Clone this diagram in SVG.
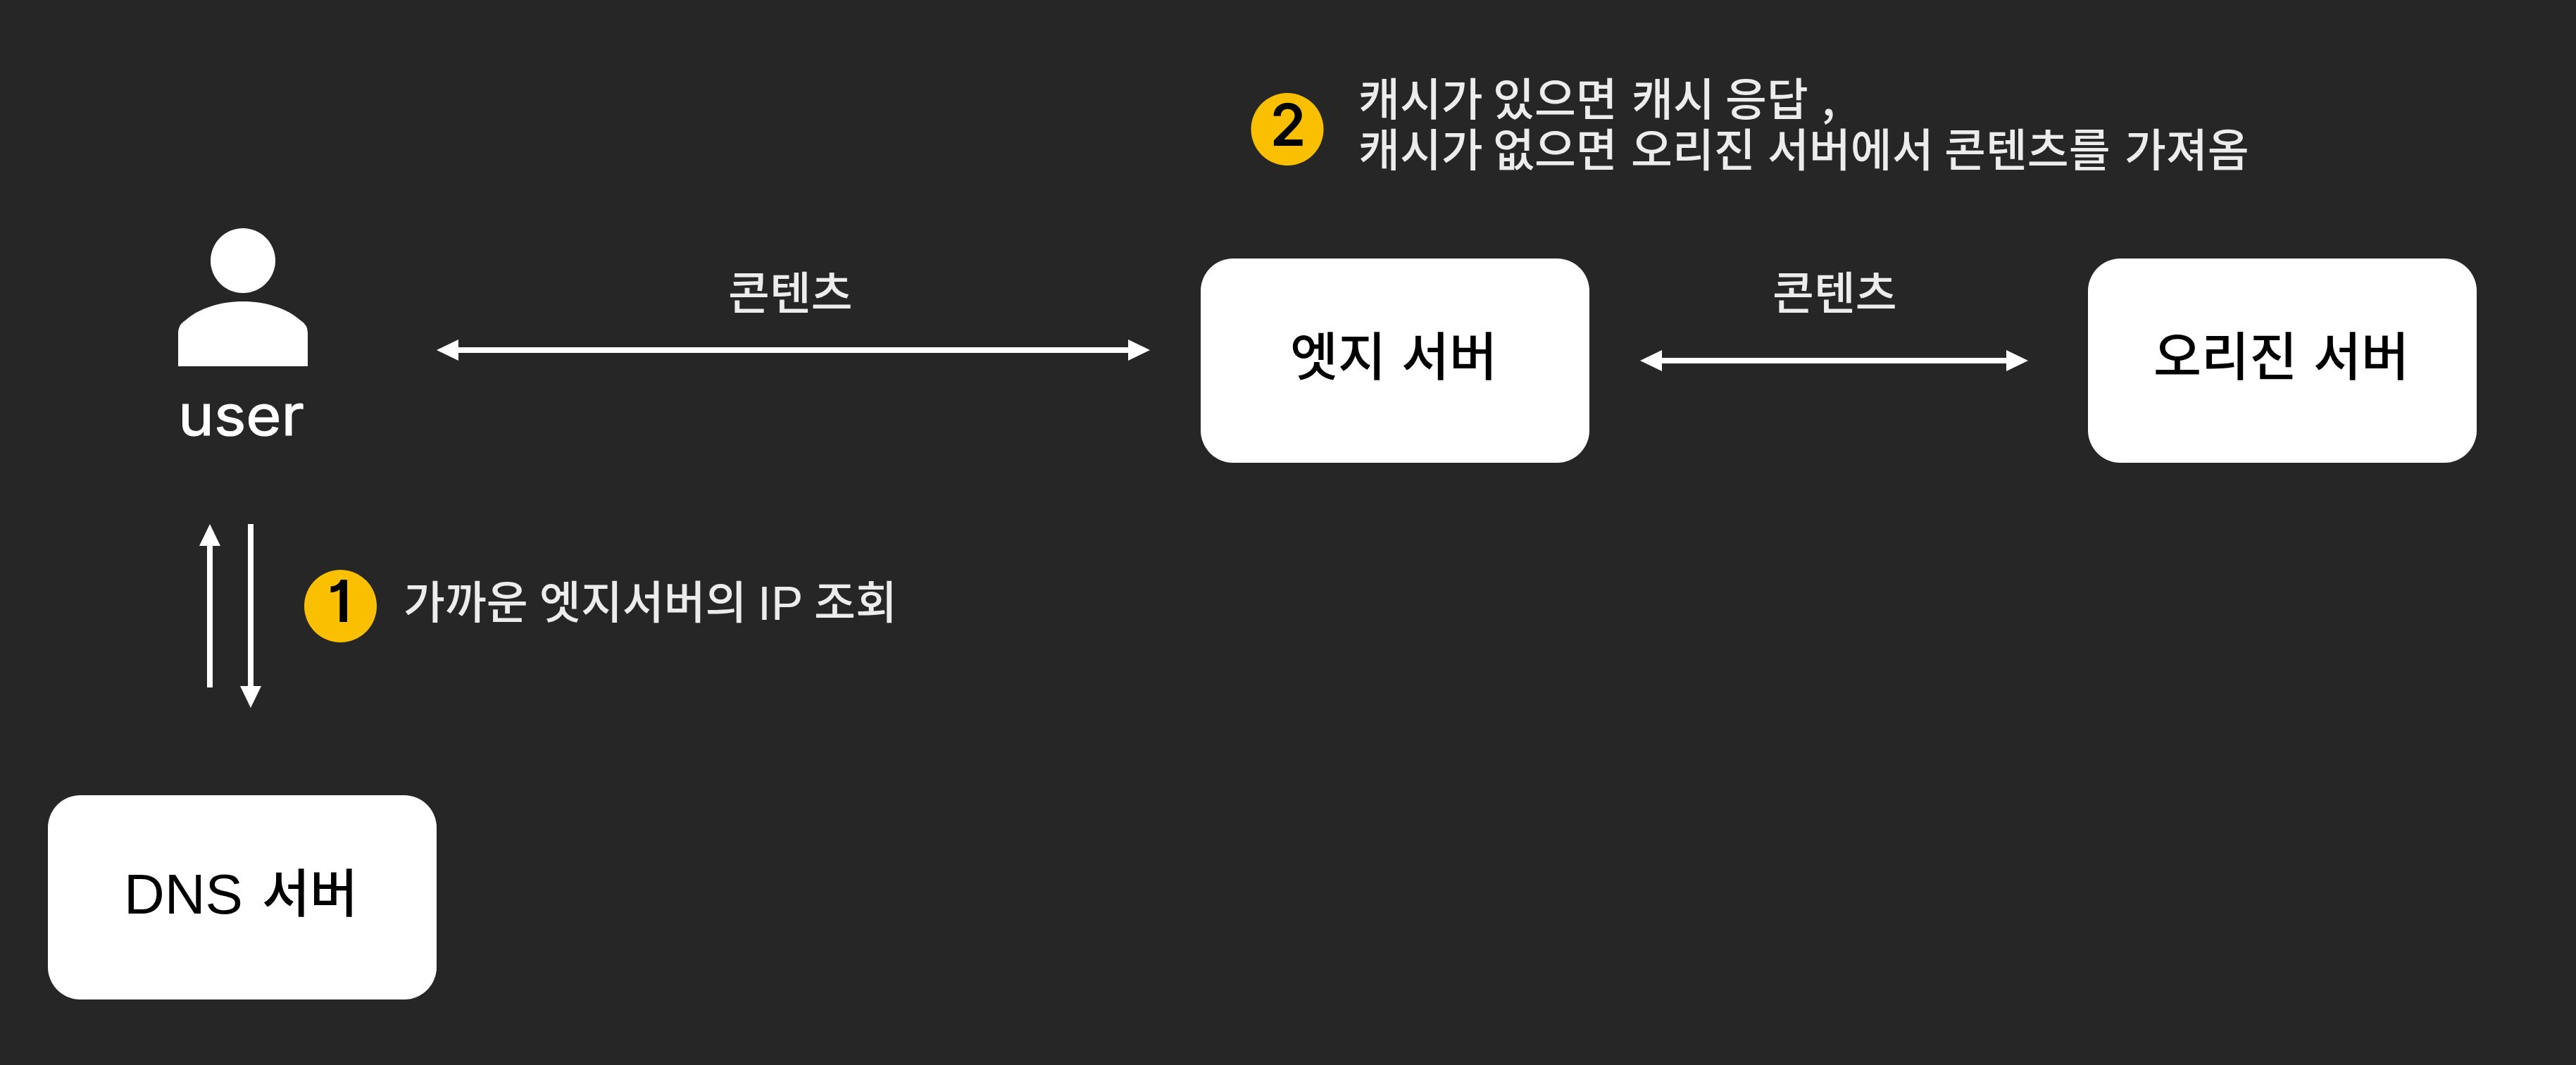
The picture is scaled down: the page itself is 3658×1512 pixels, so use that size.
<svg xmlns="http://www.w3.org/2000/svg" width="3658" height="1512" viewBox="0 0 3658 1512">
<style>
text{font-family:"Noto Sans CJK KR","Noto Sans",sans-serif}
.box{fill:#fff}
.lab{fill:#ececec;font-size:64px;font-weight:500}
.node{fill:#000;font-size:74px;font-weight:500}
.lat{font-family:"Liberation Sans",sans-serif;font-weight:400}
.num{fill:#000;font-size:82px;font-weight:600;text-anchor:middle;font-family:Inter,sans-serif;font-feature-settings:"cv01"}
.badge{fill:#fac000}
.ln{stroke:#fff;stroke-width:8;fill:none}
</style>
<defs>
<marker id="h" markerUnits="userSpaceOnUse" markerWidth="32" markerHeight="32" refX="3" refY="16" orient="auto-start-reverse" viewBox="0 0 32 32"><path d="M0 1L31 16L0 31Z" fill="#fff"/></marker>
</defs>
<rect width="3658" height="1512" fill="#262626"/>
<g id="connectors">
<path class="ln" d="M648 497H1605" marker-start="url(#h)" marker-end="url(#h)"/>
<path class="ln" d="M2357 512H2852" marker-start="url(#h)" marker-end="url(#h)"/>
<path class="ln" d="M298 976V772" marker-end="url(#h)"/>
<path class="ln" d="M356 744V977" marker-end="url(#h)"/>
</g>
<g id="user">
<circle cx="345" cy="370" r="46" fill="#fff"/>
<path d="M253 520V473Q253 461 263 455C282 438 312 428 345 428C378 428 408 438 427 455Q437 461 437 473V520Z" fill="#fff"/>
<text x="253" y="618" font-size="80" font-weight="400" fill="#fff" stroke="#fff" stroke-width="1.2" textLength="179" lengthAdjust="spacingAndGlyphs" style="font-family:Inter,sans-serif">user</text>
</g>
<g id="edge"><rect class="box" x="1705" y="367" width="552" height="290" rx="46"/><text class="node" y="533"><tspan x="1832">엣지 </tspan><tspan x="1990">서버</tspan></text></g>
<g id="origin"><rect class="box" x="2965" y="367" width="552" height="290" rx="46"/><text class="node" y="533"><tspan x="3058">오리진 </tspan><tspan x="3285">서버</tspan></text></g>
<g id="dns"><rect class="box" x="68" y="1129" width="552" height="290" rx="46"/><text class="node" y="1295"><tspan class="lat" x="176" y="1297" font-size="80">DNS </tspan><tspan x="372" y="1295">서버</tspan></text></g>
<g id="label-content-1"><text class="lab" x="1034" y="439">콘텐츠</text></g>
<g id="label-content-2"><text class="lab" x="2517" y="439">콘텐츠</text></g>
<g id="step1"><circle class="badge" cx="483.5" cy="860.5" r="51.5"/><text class="num" x="482" y="883">1</text><text class="lab" y="878"><tspan x="573">가까운 </tspan><tspan x="766">엣지서버의 </tspan><tspan class="lat" x="1076" y="880" font-size="68">IP </tspan><tspan x="1156" y="878">조회</tspan></text></g>
<g id="step2"><circle class="badge" cx="1828" cy="183.5" r="51.5"/><text class="num" x="1829" y="207">2</text>
<text class="lab" y="164"><tspan x="1929">캐시가 </tspan><tspan x="2120">있으면 </tspan><tspan x="2317">캐시 </tspan><tspan x="2450">응답 </tspan><tspan x="2587">,</tspan></text>
<text class="lab" y="236"><tspan x="1929">캐시가 </tspan><tspan x="2120">없으면 </tspan><tspan x="2316">오리진 </tspan><tspan x="2510">서버에서 </tspan><tspan x="2761">콘텐츠를 </tspan><tspan x="3017">가져옴</tspan></text></g>
</svg>
